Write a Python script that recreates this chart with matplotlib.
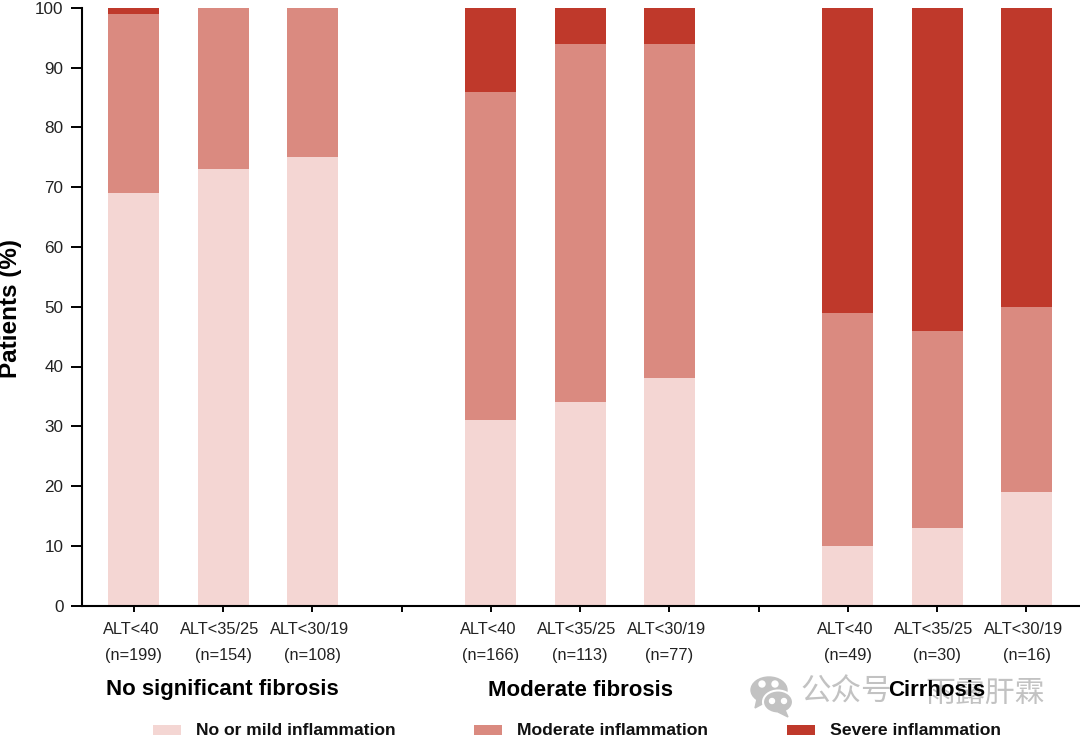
import matplotlib
matplotlib.use("Agg")
import matplotlib.pyplot as plt
import numpy as np
from matplotlib.patches import Ellipse, Rectangle, Polygon

plt.rcParams['font.family'] = ['Liberation Sans', 'Noto Sans CJK SC', 'DejaVu Sans']

# slots 3 and 7 stay empty, they only carry a tick between the groups
positions = [0, 1, 2, 4, 5, 6, 8, 9, 10]
tick_slots = list(range(11))
alt_labels = ['ALT<40', 'ALT<35/25', 'ALT<30/19'] * 3
n_labels = [199, 154, 108, 166, 113, 77, 49, 30, 16]
mild = [69, 73, 75, 31, 34, 38, 10, 13, 19]
moderate = [30, 27, 25, 55, 60, 56, 39, 33, 31]
severe = [1, 0, 0, 14, 6, 6, 51, 54, 50]
groups = ['No significant fibrosis', 'Moderate fibrosis', 'Cirrhosis']
series_names = ['No or mild inflammation', 'Moderate inflammation', 'Severe inflammation']
colors = ['#F4D6D3', '#DA8A80', '#BF392B']

W, H = 1080, 737


def fx(px):
    return px / W


def fy(py):
    return 1 - py / H


def drawWatermark(fig):
    gray = '#C2C2C2'
    # wechat style icon, drawn in pixel positions
    icon = [
        Ellipse((fx(769), fy(690)), fx(36), 26 / H, color=gray, zorder=1),
        Polygon([(fx(757), fy(699)), (fx(755), fy(708)), (fx(766), fy(702))], color=gray, zorder=1),
        Ellipse((fx(778), fy(702)), fx(30), 23 / H, color=gray, ec='white', lw=1.5, zorder=2),
        Polygon([(fx(785), fy(710)), (fx(788), fy(717)), (fx(778), fy(712))], color=gray, zorder=2),
    ]
    for eye_x, eye_y, r in [(762, 684, 3), (775, 684, 3), (772, 701, 2.5), (784, 701, 2.5)]:
        icon.append(Ellipse((fx(eye_x), fy(eye_y)), fx(r * 2), r * 2 / H, color='white', zorder=3))
    for p in icon:
        p.set_transform(fig.transFigure)
        fig.add_artist(p)
    fig.text(fx(800), fy(693), '公众号', fontsize=22, color=gray, ha='left', va='center', zorder=1)
    fig.text(fx(925), fy(694), '雨露肝霖', fontsize=21.5, color=gray, ha='left', va='center', zorder=1)


def plotBars():
    fig = plt.figure(figsize=(W / 100, H / 100), dpi=100)
    ax = fig.add_axes([fx(81.5), fy(605.5), 1 - fx(81.5), (605.5 - 8) / H])

    x = np.array(positions)
    bottom = np.zeros(len(x))
    for values, color in zip([mild, moderate, severe], colors):
        ax.bar(x, values, width=0.571, bottom=bottom, color=color, linewidth=0)
        bottom += np.array(values)

    ax.set_xlim(-0.586, 10.6)
    ax.set_ylim(0, 100)
    ax.set_yticks(range(0, 101, 10))
    ax.set_xticks(tick_slots)
    ax.set_xticklabels([])
    ax.tick_params(axis='x', length=4.5, width=1.4)
    ax.tick_params(axis='y', length=8, width=1.4, pad=5, labelsize=12.3, labelcolor='#222222')
    for side in ['top', 'right']:
        ax.spines[side].set_visible(False)
    for side in ['left', 'bottom']:
        ax.spines[side].set_linewidth(1.5)
    for tick in ax.yaxis.get_major_ticks():
        tick.tick1line.set_clip_on(False)

    # the two label lines are not quite centred on each other in the original
    xform = ax.get_xaxis_transform()
    for pos, alt, n in zip(positions, alt_labels, n_labels):
        ax.annotate(alt, (pos, 0), xycoords=xform, xytext=(-2.2, -17), textcoords='offset points',
                    ha='center', va='center', fontsize=11.8, color='#222222', annotation_clip=False)
        ax.annotate(f'(n={n})', (pos, 0), xycoords=xform, xytext=(0, -36), textcoords='offset points',
                    ha='center', va='center', fontsize=11.8, color='#222222', annotation_clip=False)

    fig.text(fx(11), fy(308), 'Patients (%)', fontsize=17.5, fontweight='bold', rotation=90,
             ha='center', va='center')

    drawWatermark(fig)

    for name, cx in zip(groups, [222.5, 580, 937]):
        fig.text(fx(cx), fy(690), name, fontsize=16, fontweight='bold', ha='center', va='center', zorder=5)

    for name, color, box_x, text_x in zip(series_names, colors, [153, 474, 787], [196, 517, 830]):
        fig.add_artist(Rectangle((fx(box_x), fy(735)), fx(28), 10 / H, color=color, lw=0,
                                 transform=fig.transFigure))
        fig.text(fx(text_x), fy(730.5), name, fontsize=12.6, fontweight='bold', ha='left', va='center',
                 color='#111111')

    fig.savefig('out.png', dpi=100)


if __name__ == '__main__':
    plotBars()
